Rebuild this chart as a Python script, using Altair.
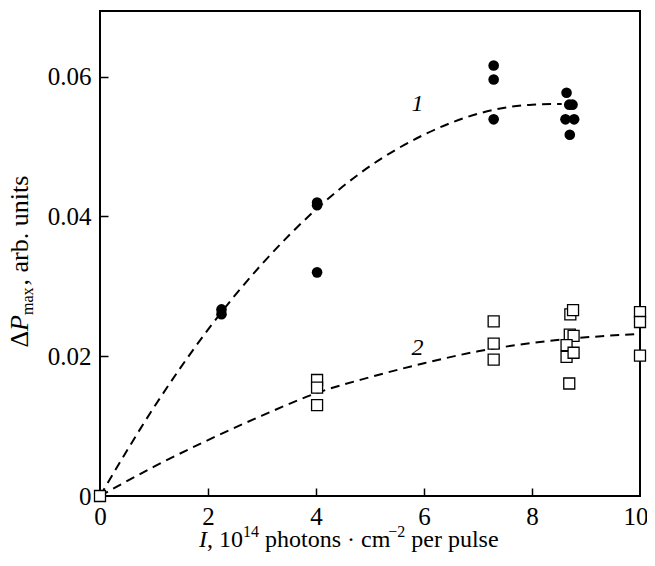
import altair as alt
import pandas as pd

# ---- values ----
# curve 1: filled circles
c1_x = [2.25, 2.25, 4.02, 4.02, 4.02, 7.29, 7.29, 7.29, 8.64, 8.69, 8.75, 8.62, 8.78, 8.70]
c1_y = [0.0267, 0.0260, 0.0420, 0.0416, 0.0320, 0.0616, 0.0596, 0.0539, 0.0577, 0.0560, 0.0560, 0.0539, 0.0539, 0.0517]
# curve 2: open squares (in drawing order)
s2_x = [0.0, 4.02, 4.02, 4.02, 7.29, 7.29, 7.29, 8.71, 8.76, 8.70, 8.77, 8.64, 8.64, 8.77, 8.69, 10.0, 10.0, 10.0]
s2_y = [0.0, 0.0166, 0.0155, 0.0130, 0.0250, 0.0218, 0.0195, 0.0260, 0.0266, 0.0231, 0.0229, 0.0216, 0.0199, 0.0205, 0.0161, 0.0263, 0.0249, 0.0201]
# dashed guide curves
f1_x = [0, 1, 2, 3, 4, 5, 6, 7, 8, 8.55]
f1_y = [0, 0.0127, 0.0238, 0.0332, 0.0410, 0.0472, 0.0517, 0.0547, 0.0560, 0.0561]
f2_x = [0, 1, 2, 3, 4, 5, 6, 7, 8, 9, 10]
f2_y = [0, 0.0042, 0.0080, 0.0115, 0.0147, 0.0170, 0.0190, 0.0207, 0.0219, 0.0227, 0.0232]
curve_labels = ["1", "2"]
curve_label_x = [5.88, 5.88]
curve_label_y = [0.0551, 0.0202]
x_ticks = [0, 2, 4, 6, 8, 10]
y_ticks = [0, 0.02, 0.04, 0.06]

FONT = "Liberation Serif"
FS = 24
TICK_FS = 25
YT_FS = 26
SUB = 16
W, H = 540, 485

xs = alt.Scale(domain=[0, 10], nice=False, zero=False)
ys = alt.Scale(domain=[0, 0.0694], nice=False, zero=False)

lines_df = pd.DataFrame({
    "x": f1_x + f2_x,
    "y": f1_y + f2_y,
    "c": ["1"] * len(f1_x) + ["2"] * len(f2_x),
})
circ_df = pd.DataFrame({"x": c1_x, "y": c1_y})
sq_df = pd.DataFrame({"x": s2_x, "y": s2_y, "i": list(range(len(s2_x)))})
lab_df = pd.DataFrame({"x": curve_label_x, "y": curve_label_y, "t": curve_labels})

last_x = x_ticks[-1]
lines = alt.Chart(lines_df).mark_line(
    color="black", strokeWidth=2, strokeDash=[9, 6], interpolate="monotone"
).encode(
    x=alt.X("x:Q", scale=xs, axis=alt.Axis(
        values=x_ticks, title=None, domain=False, ticks=False, grid=False,
        labelPadding=8, labelFlush=False, labelOverlap=False,
        labelAlign=alt.condition(f"datum.value == {last_x}", alt.value("right"), alt.value("center")),
        labelOffset=alt.condition(f"datum.value == {last_x}", alt.value(8), alt.value(0)))),
    y=alt.Y("y:Q", scale=ys, axis=alt.Axis(
        values=y_ticks, title=None, domain=False, ticks=False, grid=False,
        labelPadding=9, labelFlush=False, labelOverlap=False,
        labelExpr="datum.value == 0 ? '0' : format(datum.value, '.2f')")),
    detail="c:N",
)

circles = alt.Chart(circ_df).mark_point(
    shape="circle", filled=True, color="black", size=113, opacity=1
).encode(
    x=alt.X("x:Q", scale=xs, axis=alt.Axis(
        values=x_ticks[1:-1], orient="bottom", offset=-8, tickSize=8, tickWidth=1.5,
        tickColor="black", labels=False, domain=False, grid=False, title=None)),
    y=alt.Y("y:Q", scale=ys, axis=alt.Axis(
        values=y_ticks[1:], orient="left", offset=-8, tickSize=8, tickWidth=1.5,
        tickColor="black", labels=False, domain=False, grid=False, title=None)),
)

squares = alt.Chart(sq_df).mark_point(
    shape="square", filled=True, fill="white", stroke="black", strokeWidth=1.3,
    size=121, opacity=1
).encode(
    x=alt.X("x:Q", scale=xs, axis=None),
    y=alt.Y("y:Q", scale=ys, axis=None),
    order=alt.Order("i:Q"),
)

labels = alt.Chart(lab_df).mark_text(
    font=FONT, fontSize=FS, fontStyle="italic", align="center",
    baseline="alphabetic", color="black"
).encode(
    x=alt.X("x:Q", scale=xs, axis=None),
    y=alt.Y("y:Q", scale=ys, axis=None),
    text="t:N",
)


def piece(txt, px, py, size=FS, style="normal", align="left", angle=0):
    return alt.Chart(alt.Data(values=[{}])).mark_text(
        text=txt, font=FONT, fontSize=size, fontStyle=style, align=align,
        baseline="alphabetic", angle=angle, color="black"
    ).encode(x=alt.value(px), y=alt.value(py))


# x title: I, 10^14 photons · cm^-2 per pulse
ax, by = 107, 536
xt = [
    piece("I", ax, by, style="italic", align="right"),
    piece(", 10", ax, by),
    piece("14", ax + 36, by - 10, size=SUB),
    piece("photons · cm", ax + 58, by),
    piece("−2", ax + 181.3, by - 10, size=SUB),
    piece("per pulse", ax + 204.3, by),
]

# y title: ΔP_max, arb. units (rotated)
bx, ay = -72, 304
pw = 0.611 * YT_FS
yt = [
    piece("P", bx, ay, size=YT_FS, style="italic", align="right", angle=270),
    piece("Δ", bx, ay + pw, size=YT_FS, align="right", angle=270),
    piece("max", bx + 5, ay, size=SUB, angle=270),
    piece(", arb. units", bx, ay - 1.722 * SUB - 2, size=YT_FS, angle=270),
]

chart = alt.layer(lines, circles, squares, labels, *xt, *yt).resolve_axis(
    x="independent", y="independent"
).properties(
    width=W, height=H,
    autosize=alt.AutoSizeParams(type="none"),
    padding={"left": 92, "top": 3, "right": 7, "bottom": 62},
).configure_view(
    stroke="black", strokeWidth=2
).configure_axis(
    labelFont=FONT, labelFontSize=TICK_FS, labelColor="black"
)

chart.save("out.html", embed_options={"renderer": "svg", "actions": False})
